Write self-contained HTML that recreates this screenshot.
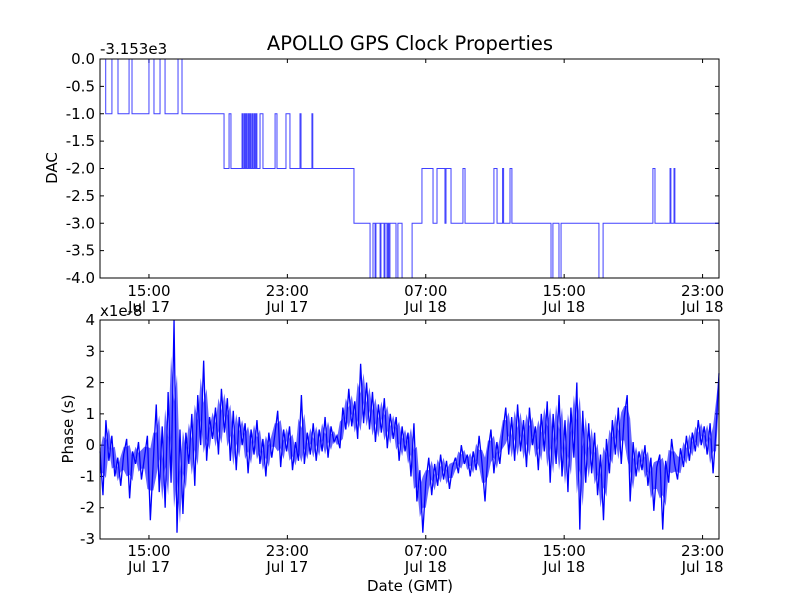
<!DOCTYPE html>
<html><head><meta charset="utf-8"><style>
body{margin:0;background:#fff}
svg{font-family:"DejaVu Sans","Liberation Sans",sans-serif}
</style></head><body>
<svg id="c" width="800" height="600" viewBox="0 0 800 600" xmlns="http://www.w3.org/2000/svg">
<rect width="800" height="600" fill="#fff"/>
<text x="410" y="50" font-size="19.5" text-anchor="middle">APOLLO GPS Clock Properties</text>
<text x="100" y="54" font-size="15">-3.153e3</text>
<text x="100" y="316" font-size="15">x1e-8</text>
<text transform="translate(57,168) rotate(-90)" font-size="15" text-anchor="middle">DAC</text>
<text transform="translate(73,429) rotate(-90)" font-size="15" text-anchor="middle">Phase (s)</text>
<text x="410" y="591" font-size="15" text-anchor="middle">Date (GMT)</text>
<g id="top"></g><g id="bot"></g>
</svg>
<script>
// hours since Jul 17 00:00
const xMin = 12.17, xMax = 47.95;
const xTickHours = [15, 23, 31, 39, 47];
const xTickTimes = ["15:00", "23:00", "07:00", "15:00", "23:00"];
const xTickDays = ["Jul 17", "Jul 17", "Jul 18", "Jul 18", "Jul 18"];
const dacTicks = [0, -0.5, -1, -1.5, -2, -2.5, -3, -3.5, -4];
const phaseTicks = [4, 3, 2, 1, 0, -1, -2, -3];
// DAC step series (value holds from time until next time)
const dacTimes = [12.17,12.50,12.86,13.21,13.85,14.02,15.00,15.29,15.64,15.93,16.68,16.91,19.34,19.63,19.74,
20.38,20.43,20.50,20.55,20.61,20.66,20.73,20.78,20.84,20.89,20.96,21.01,21.08,21.13,21.19,21.24,
21.42,21.59,22.29,22.40,22.92,23.15,23.73,23.79,24.42,24.47,26.85,
27.78,27.95,28.07,28.12,28.36,28.41,28.59,28.64,28.76,28.82,28.87,28.93,29.28,29.39,29.63,30.21,
30.78,31.42,31.65,32.11,32.17,32.46,33.15,33.27,34.94,35.12,35.44,35.50,35.87,35.98,
38.24,38.35,38.70,38.82,41.01,41.25,44.13,44.25,45.12,45.17,45.35,45.40,47.95];
const dacValues = [0,-1,0,-1,0,-1,0,-1,0,-1,0,-1,-2,-1,-2,
-1,-2,-1,-2,-1,-2,-1,-2,-1,-2,-1,-2,-1,-2,-1,-2,
-1,-2,-1,-2,-1,-2,-1,-2,-1,-2,-3,
-4,-3,-4,-3,-4,-3,-4,-3,-4,-3,-4,-3,-4,-3,-4,-3,
-2,-3,-2,-3,-2,-3,-2,-3,-2,-3,-2,-3,-2,-3,
-4,-3,-4,-3,-4,-3,-2,-3,-2,-3,-2,-3,-3];
// phase values (units of 1e-8 s), evenly spaced in time over the span
const phaseValues = [
-0.2,-1.6,0.8,-0.5,0.3,-1.0,-0.4,-1.3,-0.3,0.2,
-1.7,-0.2,-0.6,0.1,-1.1,-0.4,0.3,-2.4,-0.5,1.3,
-1.5,0.6,-2.0,1.7,-1.2,4.0,-2.8,0.5,-2.2,0.4,
-0.6,1.0,-1.3,1.6,0.0,2.7,-0.5,0.9,0.2,1.2,
-0.3,1.8,0.4,1.5,-0.5,1.1,-0.8,0.9,0.0,0.7,
-0.9,0.5,-0.3,0.8,-0.6,0.2,-1.0,0.4,-0.4,0.3,
1.1,-0.7,0.5,-0.2,0.6,-0.8,0.1,-0.5,1.6,-0.6,
0.4,-0.3,0.7,-0.5,0.5,-0.2,0.9,-0.4,0.6,0.1,
0.3,-0.1,1.2,0.5,1.8,0.6,1.4,0.2,2.6,0.7,
2.0,0.5,1.7,0.1,1.3,0.4,1.5,-0.1,1.0,0.2,
0.9,-0.5,0.6,-0.2,0.4,-1.0,0.7,-1.8,-0.8,-2.8,
-1.2,-0.4,-1.6,-0.6,-1.3,-0.3,-1.1,-0.5,-1.4,-0.7,
-0.4,-0.9,0.0,-0.6,-0.3,-1.0,-0.2,-0.8,0.3,-0.6,
-1.8,-0.2,0.5,-0.9,0.1,-0.6,0.4,1.2,-0.3,0.9,
-0.5,1.3,-0.2,0.8,-0.7,1.2,0.0,0.6,-0.8,1.0,
-0.2,1.4,-1.2,1.0,-0.6,1.6,-1.0,0.8,-1.5,1.2,
-0.4,2.0,-2.7,1.1,-1.2,0.7,-0.9,0.4,-1.6,-0.3,
-2.4,0.2,-0.9,0.8,-0.3,1.2,-0.6,0.9,1.6,-1.8,
0.1,-1.0,-0.2,-0.8,0.0,-1.3,-0.4,-2.1,-0.7,-0.3,
-2.7,-0.5,-1.2,0.2,-0.6,-1.1,-0.1,-0.7,0.3,-0.5,
0.4,-0.2,0.8,0.0,0.6,-0.3,0.7,-0.9,0.5,2.3];

const NS = "http://www.w3.org/2000/svg";
const L = 100, R = 719;
function xs(h){ return L + (h - xMin) / (xMax - xMin) * (R - L); }
function mk(tag, attrs, parent){ const e = document.createElementNS(NS, tag); for (const k in attrs) e.setAttribute(k, attrs[k]); parent.appendChild(e); return e; }

function axes(g, top, bot, vMax, vMin, ticks, fmt, tickName, labelY){
  const ys = v => top + (vMax - v) / (vMax - vMin) * (bot - top);
  for (let i = 0; i < ticks.length; i++) {
    const y = ys(ticks[i]);
    mk('line', {x1:L, x2:L+4, y1:y, y2:y, stroke:'#000'}, g);
    mk('line', {x1:R-4, x2:R, y1:y, y2:y, stroke:'#000'}, g);
    const t = mk('text', {x:L-5, y:y+5, 'font-size':15, 'text-anchor':'end'}, g);
    t.textContent = fmt(ticks[i]);
    
    
  }
  for (let i = 0; i < xTickHours.length; i++) {
    const x = xs(xTickHours[i]);
    mk('line', {x1:x, x2:x, y1:top, y2:top+4, stroke:'#000'}, g);
    mk('line', {x1:x, x2:x, y1:bot-4, y2:bot, stroke:'#000'}, g);
    const t = mk('text', {x:x, y:labelY, 'font-size':15, 'text-anchor':'middle'}, g);
    t.textContent = xTickTimes[i];
    
    
    const d = mk('text', {x:x, y:labelY+16, 'font-size':15, 'text-anchor':'middle'}, g);
    d.textContent = xTickDays[i];
    
    
  }
  return ys;
}

// top panel
const gt = document.getElementById('top');


const ysT = axes(gt, 59, 278, 0, -4, dacTicks, v => v.toFixed(1), 'dac-tick-label', 296);
let p = '';
for (let i = 0; i < dacTimes.length; i++) {
  const x = xs(dacTimes[i]), y = ysT(dacValues[i]);
  if (i === 0) p += 'M' + x + ',' + y;
  else p += 'H' + x + 'V' + y;
}
const dl = mk('path', {d:p, fill:'none', stroke:'#0000ff', 'stroke-width':1, 'stroke-opacity':0.75}, gt);


const fr1 = mk('rect', {x:L, y:59, width:R-L, height:219, fill:'none', stroke:'#000', 'stroke-width':1}, gt);



// bottom panel
const gb = document.getElementById('bot');


const ysB = axes(gb, 320, 539, 4, -3, phaseTicks, v => String(v), 'phase-tick-label', 556);
const n = phaseValues.length;
const px = [], py = [];
for (let i = 0; i < n; i++) {
  const h = xMin + i / (n - 1) * (xMax - xMin);
  px.push(xs(h));
  py.push(Math.max(320, Math.min(539, ysB(phaseValues[i]))));
}
// dense noise band between neighbouring extremes
let up = '', lo = '';
for (let i = 0; i < n; i++) {
  const a = py[Math.max(0, i - 1)], b = py[i], c = py[Math.min(n - 1, i + 1)];
  const sorted = [a, b, c].sort((m, k) => m - k);
  up += (i ? 'L' : 'M') + px[i].toFixed(2) + ',' + ((sorted[0] + sorted[1]) / 2).toFixed(2);
  lo = 'L' + px[i].toFixed(2) + ',' + ((sorted[1] + sorted[2]) / 2).toFixed(2) + lo;
}
const band = mk('path', {d: up + lo + 'Z', fill:'#0000ff', 'fill-opacity':0.6, stroke:'none'}, gb);


let q = '';
for (let i = 0; i < n; i++) q += (i ? 'L' : 'M') + px[i].toFixed(2) + ',' + py[i].toFixed(2);
const pl = mk('path', {d:q, fill:'none', stroke:'#0000ff', 'stroke-width':1.3}, gb);


const fr2 = mk('rect', {x:L, y:320, width:R-L, height:219, fill:'none', stroke:'#000', 'stroke-width':1}, gb);


</script>
</body></html>
